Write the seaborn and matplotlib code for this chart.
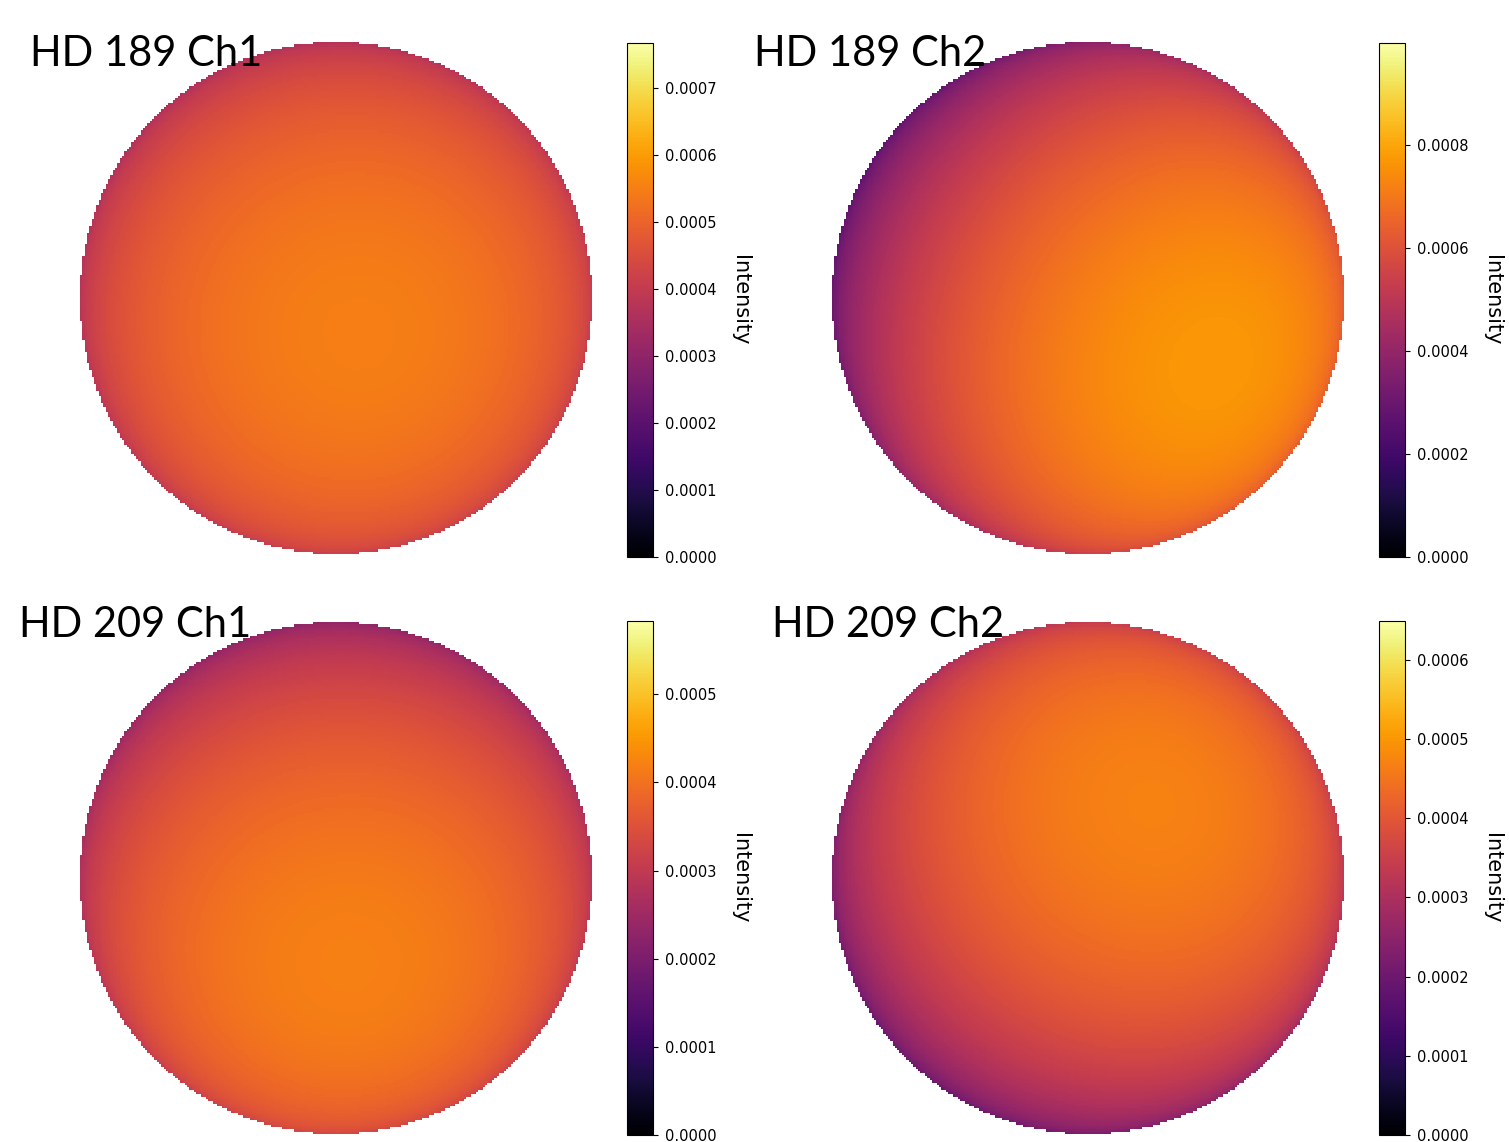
import numpy as np
import matplotlib
matplotlib.use("Agg")
import matplotlib.pyplot as plt
import seaborn as sns
from matplotlib.ticker import MultipleLocator, FormatStrFormatter

# ---- data ----
panel_titles = ["HD 189 Ch1", "HD 189 Ch2", "HD 209 Ch1", "HD 209 Ch2"]
# hotspot position on the projected disk (units of disk radius, +x right, +y up)
hotspot_x = [0.09, 0.49, 0.05, 0.25]
hotspot_y = [-0.14, -0.26, -0.34, 0.29]
# intensity at the hotspot and on the terminator ring (angle 90 deg from hotspot)
peak_intensity = [0.00055, 0.00077, 0.00042, 0.00047]
ring_intensity = [0.00038, 0.00044, 0.000271, 0.000267]
# colour-bar ranges and tick steps
cbar_max = [0.000767, 0.000998, 0.000583, 0.000649]
cbar_step = [0.0001, 0.0002, 0.0001, 0.0001]
cbar_label = "Intensity"

W, H = 1509, 1142
fig = plt.figure(figsize=(W / 100, H / 100), dpi=100)

def fx(px):
    return px / W

def fy(py):
    return 1 - py / H

# pixel layout: (disk left, disk top, colorbar left, colorbar top, title x, title baseline)
layout = [
    (80, 42, 627, 43, 30, 66),
    (832, 42, 1379, 43, 754, 66),
    (80, 622, 627, 621, 19, 637),
    (832, 622, 1379, 621, 772, 637),
]
disk_px = 512
cbar_w, cbar_h = 26, 514

N = 220
coords = (np.arange(N) + 0.5) / N * 2 - 1
X, Y = np.meshgrid(coords, -coords)  # row 0 at top
R2 = X ** 2 + Y ** 2
inside = R2 <= 1.0
Z = np.sqrt(np.clip(1 - R2, 0, None))

for i in range(4):
    dl, dt, cl, ct, tx, ty = layout[i]
    ax = fig.add_axes([fx(dl), fy(dt + disk_px), fx(disk_px), disk_px / H])
    cax = fig.add_axes([fx(cl), fy(ct + cbar_h), fx(cbar_w), cbar_h / H])
    hx, hy = hotspot_x[i], hotspot_y[i]
    hz = np.sqrt(1 - hx ** 2 - hy ** 2)
    cosang = X * hx + Y * hy + Z * hz
    field = ring_intensity[i] + (peak_intensity[i] - ring_intensity[i]) * cosang
    sns.heatmap(field, mask=~inside, cmap="inferno", vmin=0, vmax=cbar_max[i],
                ax=ax, cbar_ax=cax, xticklabels=False, yticklabels=False)
    ax.set_axis_off()
    cb = ax.collections[0].colorbar
    cb.outline.set_visible(True)
    cb.outline.set_linewidth(0.8)
    cb.outline.set_edgecolor("black")
    cax.yaxis.set_major_locator(MultipleLocator(cbar_step[i]))
    cax.yaxis.set_major_formatter(FormatStrFormatter("%.4f"))
    cax.tick_params(labelsize=10.5, length=3.5, width=0.8, colors="black", pad=5)
    cb.set_label(cbar_label, rotation=270, fontsize=15, labelpad=24)
    fig.text(fx(tx), fy(ty), panel_titles[i], fontsize=30, family="Lato",
             va="baseline", ha="left", color="black")

fig.savefig("out.png", dpi=100)
